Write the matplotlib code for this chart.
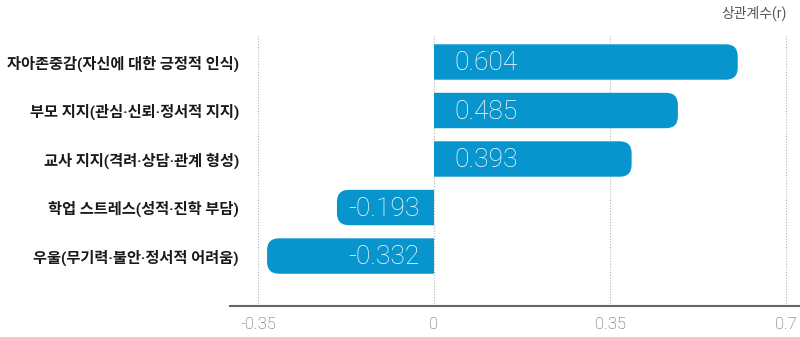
import matplotlib
matplotlib.use("Agg")
import matplotlib.pyplot as plt
from matplotlib.path import Path
from matplotlib.patches import PathPatch

categories = ["자아존중감(자신에 대한 긍정적 인식)",
              "부모 지지(관심·신뢰·정서적 지지)",
              "교사 지지(격려·상담·관계 형성)",
              "학업 스트레스(성적·진학 부담)",
              "우울(무기력·불안·정서적 어려움)"]
values = [0.604, 0.485, 0.393, -0.193, -0.332]
xticks = [-0.35, 0, 0.35, 0.7]
xtick_labels = ["-0.35", "0", "0.35", "0.7"]

BAR = "#0895CD"
W, H = 800, 337
fig = plt.figure(figsize=(W / 100, H / 100), dpi=100)
ax = fig.add_axes([230 / W, 1 - 306 / H, 570 / W, (306 - 36) / H])
px_per_unit = 176 / 0.35
x0_px = 434 - 230
xmin = -x0_px / px_per_unit
xmax = (570 - x0_px) / px_per_unit
ymin, ymax = 4 + 1.03, -0.536
ax.set_xlim(xmin, xmax)
ax.set_ylim(ymin, ymax)

xu = (xmax - xmin) / 570
yu = (ymin - ymax) / 270
bh = 0.73
r_px = 12
rx, ry = r_px * xu, r_px * yu
C3 = Path.CURVE3
for i, v in enumerate(values):
    y0, y1 = i - bh / 2, i + bh / 2
    s = 1 if v > 0 else -1
    verts = [(0, y0), (v - s * rx, y0), (v, y0), (v, y0 + ry),
             (v, y1 - ry), (v, y1), (v - s * rx, y1), (0, y1), (0, y0)]
    codes = [Path.MOVETO, Path.LINETO, C3, C3, Path.LINETO, C3, C3,
             Path.LINETO, Path.CLOSEPOLY]
    ax.add_patch(PathPatch(Path(verts, codes), fc=BAR, ec="none", zorder=3))
    if v > 0:
        ax.text(20 * xu, i + 0.03, f"{v:.3f}", ha="left", va="center",
                color="white", fontsize=19, family="Roboto",
                fontweight="light", zorder=4)
    else:
        ax.text(-14 * xu, i + 0.03, f"{v:.3f}", ha="right",
                va="center", color="white", fontsize=19, family="Roboto",
                fontweight="light", zorder=4)

for t in xticks:
    ax.axvline(t, color="#b5b5b5", lw=0.8, ls=(0, (1, 1.5)), zorder=1)

ax.set_yticks(range(len(categories)))
ax.set_yticklabels(categories, fontsize=11, family=["Roboto", "Noto Sans CJK KR"],
                   fontweight="bold", color="#1a1a1a")
ax.tick_params(axis="y", length=0, pad=-6.5)
ax.set_xticks(xticks)
ax.set_xticklabels(xtick_labels, fontsize=12, family="Roboto",
                   fontweight="light", color="#555555")
ax.tick_params(axis="x", length=0, pad=8)

for s_ in ["top", "right", "left"]:
    ax.spines[s_].set_visible(False)
ax.spines["bottom"].set_color("#666666")
ax.spines["bottom"].set_linewidth(1.5)

fig.text(787 / W, 1 - 13 / H, "상관계수(r)", ha="right", va="center",
         fontsize=10, family=["Roboto", "Noto Sans CJK KR"], color="#555555")

fig.savefig("out.png", dpi=100)
